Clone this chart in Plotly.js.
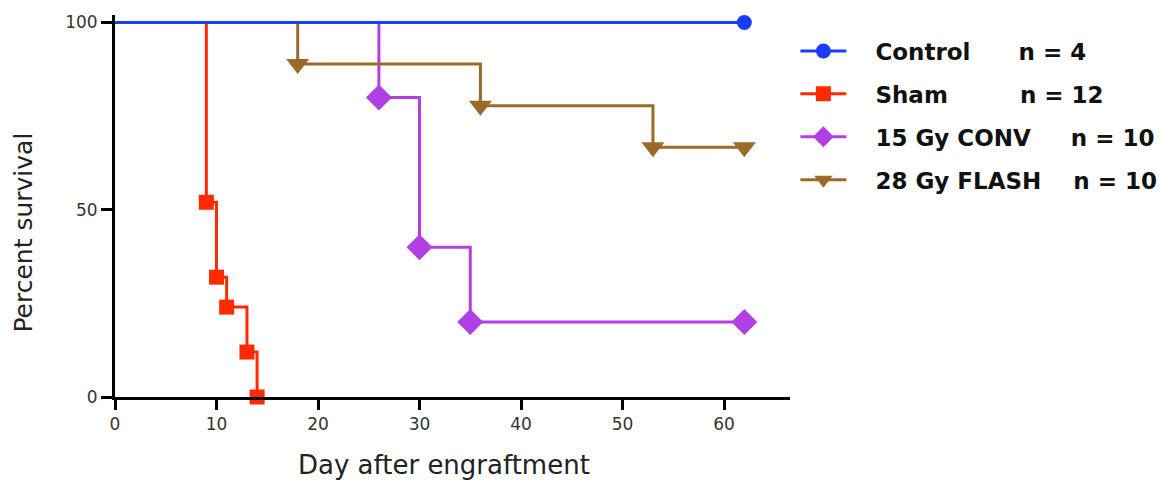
<!DOCTYPE html>
<html>
<head>
<meta charset="utf-8">
<script src="https://cdn.plot.ly/plotly-3.0.1.min.js"></script>
<style>
  html, body { margin: 0; padding: 0; background: #fff; }
  #chart { width: 1163px; height: 483px; }
</style>
</head>
<body>
<div id="chart"></div>
<script>
// Kaplan-Meier survival steps: event days and survival (%) after each step
const groupNames = ["Control", "Sham", "15 Gy CONV", "28 Gy FLASH"];
const groupN = [4, 12, 10, 10];

const controlDays = [0, 62];
const controlSurvival = [100, 100];

const shamDays = [0, 9, 10, 11, 13, 14];
const shamSurvival = [100, 52, 32, 24, 12, 0];

const convDays = [0, 26, 30, 35, 62];
const convSurvival = [100, 80, 40, 20, 20];

const flashDays = [0, 18, 36, 53, 62];
const flashSurvival = [100, 88.9, 77.8, 66.7, 66.7];

const xTicks = [0, 10, 20, 30, 40, 50, 60];
const yTicks = [0, 50, 100];

const colors = ["#1b3bff", "#ff2a00", "#b23fe3", "#9a6a28"];
const symbols = ["circle", "square", "diamond", "triangle-down"];
const markerSizes = [15, 15, 20, 20];

const NB = "\u00a0";
// spacing between the group name and its n
const gaps = [6, 9, 5, 4];

const series = [
  [controlDays, controlSurvival],
  [shamDays, shamSurvival],
  [convDays, convSurvival],
  [flashDays, flashSurvival]
];

const traces = series.map(([days, surv], i) => {
  // markers on every step except the starting point (day 0, 100 %)
  const marked = days.map((d, j) => j).filter(j => j > 0);
  return {
    x: days,
    y: surv,
    type: "scatter",
    mode: "lines+markers",
    name: NB.repeat(3) + groupNames[i] + NB.repeat(gaps[i]) + "n = " + groupN[i],
    legendrank: i + 1,
    legendgroup: "g" + i,
    line: { color: colors[i], width: 3, shape: "hv" },
    marker: { color: colors[i], symbol: symbols[i], size: markerSizes[i], opacity: 1, line: { width: 0 } },
    selectedpoints: marked,
    selected: { marker: { opacity: 1 } },
    unselected: { marker: { opacity: 0 } },
    cliponaxis: false,
    hoverinfo: "x+y"
  };
});

// draw Control last so it sits on top at 100 %
const ordered = [traces[1], traces[2], traces[3], traces[0]];

const tickFont = { family: "DejaVu Sans, sans-serif", size: 17, color: "#333" };
const titleFont = { family: "DejaVu Sans, sans-serif", size: 26, color: "#222" };

const layout = {
  width: 1163,
  height: 483,
  paper_bgcolor: "#fff",
  plot_bgcolor: "#fff",
  margin: { l: 115, r: 373, t: 15, b: 86, autoexpand: false },
  font: { family: "DejaVu Sans, sans-serif", color: "#333" },
  xaxis: {
    range: [0, 66.5],
    tickvals: xTicks,
    ticktext: xTicks.map(String),
    ticks: "outside",
    ticklen: 10,
    tickwidth: 3,
    tickcolor: "#000",
    showline: true,
    linecolor: "#000",
    linewidth: 3,
    showgrid: false,
    zeroline: false,
    tickfont: tickFont
  },
  yaxis: {
    range: [0, 102],
    tickvals: yTicks,
    ticktext: yTicks.map(String),
    ticks: "outside",
    ticklen: 11,
    tickwidth: 3,
    tickcolor: "#000",
    showline: true,
    linecolor: "#000",
    linewidth: 3,
    showgrid: false,
    zeroline: false,
    tickfont: tickFont
  },
  annotations: [
    {
      text: "Day after engraftment",
      xref: "paper", yref: "paper",
      x: 0.487, y: -0.178,
      xanchor: "center", yanchor: "middle",
      showarrow: false,
      font: titleFont
    },
    {
      text: "Percent survival",
      xref: "paper", yref: "paper",
      x: -0.135, y: 0.43,
      xanchor: "center", yanchor: "middle",
      textangle: -90,
      showarrow: false,
      font: { family: "DejaVu Sans, sans-serif", size: 25, color: "#222" }
    }
  ],
  legend: {
    x: 1.008,
    y: 0.962,
    xanchor: "left",
    yanchor: "top",
    traceorder: "grouped",
    tracegroupgap: 10,
    itemwidth: 46,
    font: { size: 23, color: "#111", family: "DejaVu Sans, sans-serif", weight: "bold" },
    bgcolor: "rgba(0,0,0,0)"
  },
  showlegend: true
};

Plotly.newPlot("chart", ordered, layout, { displayModeBar: false, staticPlot: true });
</script>
</body>
</html>
